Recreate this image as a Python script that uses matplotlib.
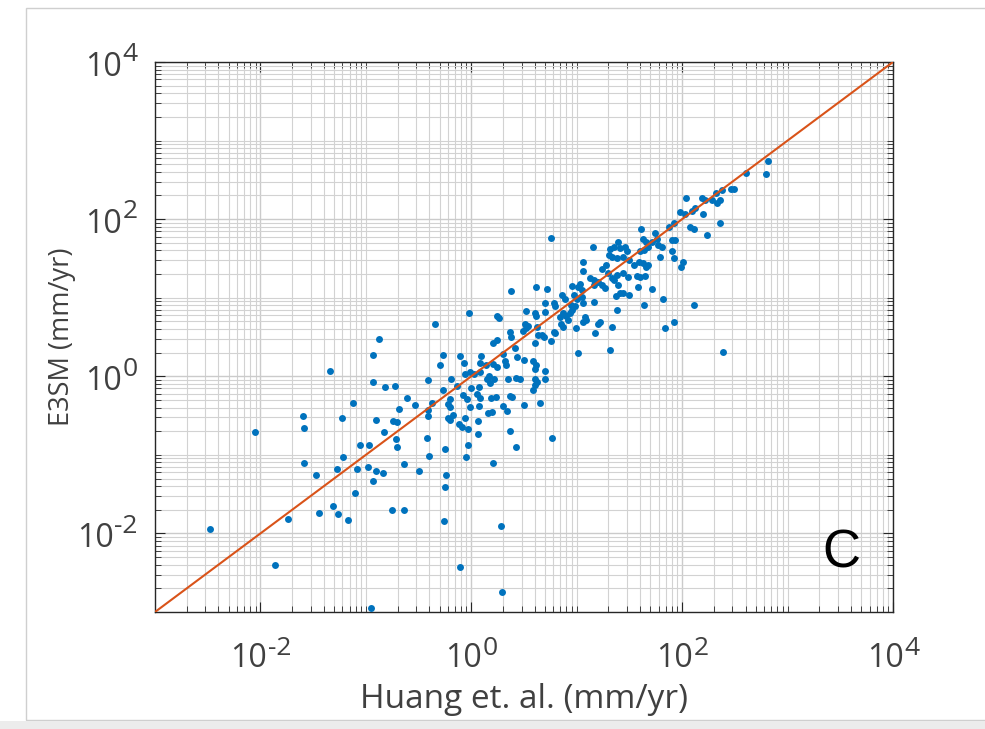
import numpy as np
import matplotlib
matplotlib.use("Agg")
import matplotlib.pyplot as plt
from matplotlib.ticker import FixedLocator, LogLocator, NullFormatter
from matplotlib.patches import Rectangle
from matplotlib.transforms import blended_transform_factory

plt.rcParams["font.family"] = ["Open Sans", "DejaVu Sans"]

# values, as log10(mm/yr)
# low-range cluster
low_huang = [-0.88, -0.93, -1.34, -0.93, -0.82, -0.72, -1.12, -0.69, -1.60, -1.23,
             -0.90, -0.74, -0.70, -1.59, -2.05, -0.83, -0.71, -1.06, -0.97, -0.70,
             -1.22, -1.59, -1.27, -1.08, -0.98, -0.90, -0.84, -1.47, -0.93, -1.10,
             -1.31, -1.44, -1.26, -0.75, -1.74, -1.17, -2.48, -1.86, -0.95, -0.64,
             -0.25, -0.26, 0.28, -0.11, 0.29]
low_e3sm = [0.47, 0.27, 0.07, -0.07, -0.14, -0.12, -0.34, -0.42, -0.50, -0.53,
            -0.56, -0.57, -0.58, -0.66, -0.71, -0.71, -0.80, -0.87, -0.87, -0.90,
            -1.03, -1.10, -1.18, -1.18, -1.16, -1.20, -1.23, -1.25, -1.33, -1.49,
            -1.65, -1.74, -1.75, -1.70, -1.82, -1.83, -1.94, -2.40, -2.95, -1.70,
            -1.41, -1.84, -1.91, -2.43, -2.74]

# middle cluster
mid_huang = [-0.02, 0.24, 0.26, -0.34, 0.52, 0.60, 0.61, 0.51, 0.54, 0.37,
             0.38, 0.49, 0.52, 0.62, 0.63, 0.60, 0.24, 0.21, 0.41, -0.27,
             -0.11, 0.09, 0.30, 0.43, 0.50, -0.30, -0.07, 0.08, 0.14, 0.21,
             0.24, 0.32, 0.33, 0.59, 0.61, 0.60, -0.06, -0.01, 0.03, 0.08,
             -0.19, -0.41, 0.15, 0.17, 0.22, 0.35, 0.42, 0.46, 0.60, 0.62,
             0.70, -0.14, 0.00, 0.07, 0.18, 0.60, 0.59, -0.27, 0.08, 0.05,
             -0.61, -0.20, -0.08, -0.04, 0.19, 0.23, 0.37, 0.39, -0.37, -0.53,
             -0.22, -0.20, -0.01, 0.07, -0.41, 0.16, 0.20, 0.30, 0.34, 0.50,
             0.65, -0.17, -0.22, -0.20, -0.41, -0.06, 0.06, -0.12, -0.09, -0.03,
             0.06, 0.37, -0.42, -0.03, -0.25, 0.42, 0.77, -0.40, -0.05, -0.64,
             0.21, -0.50, -0.24, 0.38, 0.61]
mid_e3sm = [0.81, 0.77, 0.74, 0.66, 0.83, 0.81, 0.77, 0.66, 0.64, 0.57,
            0.50, 0.58, 0.62, 0.63, 0.53, 0.42, 0.46, 0.42, 0.36, 0.27,
            0.26, 0.26, 0.28, 0.25, 0.21, 0.14, 0.17, 0.17, 0.14, 0.16,
            0.12, 0.20, 0.14, 0.19, 0.14, 0.09, 0.03, 0.06, 0.03, 0.06,
            -0.03, -0.05, -0.03, 0.00, -0.04, -0.03, -0.02, -0.03, -0.03, -0.07,
            -0.04, -0.12, -0.15, -0.14, -0.09, -0.11, -0.17, -0.18, -0.28, -0.22,
            -0.27, -0.29, -0.24, -0.29, -0.28, -0.26, -0.25, -0.26, -0.34, -0.36,
            -0.35, -0.39, -0.39, -0.38, -0.43, -0.47, -0.45, -0.38, -0.44, -0.37,
            -0.34, -0.49, -0.53, -0.55, -0.51, -0.53, -0.57, -0.61, -0.65, -0.67,
            -0.73, -0.70, -0.78, -0.87, -0.92, -0.90, -0.79, -1.02, -1.03, -1.12,
            -1.10, -1.20, -1.25, 1.09, 1.14]

# high-range cluster
high_huang = [0.76, 1.15, 1.39, 1.61, 1.74, 2.04, 2.19, 2.22, 2.28, 2.32,
              2.38, 2.46, 2.61, 2.33, 2.36, 1.98, 2.03, 2.09, 2.12, 2.20,
              1.92, 1.88, 2.07, 2.11, 2.36, 2.24, 1.63, 1.66, 1.71, 1.76,
              1.77, 1.81, 1.90, 1.93, 1.32, 1.35, 1.41, 1.46, 1.48, 1.60,
              1.64, 1.68, 1.90, 1.79, 1.92, 1.06, 1.31, 1.33, 1.38, 1.44,
              1.50, 1.54, 1.59, 1.63, 1.66, 1.68, 2.01, 1.99, 1.24, 1.28,
              1.06, 1.30, 1.38, 1.44, 1.49, 1.57, 1.60, 1.65, 1.13, 1.16,
              1.20, 1.33, 1.35, 0.96, 1.01, 1.03, 1.05, 1.16, 1.24, 1.27,
              1.39, 1.58, 1.71, 0.72, 0.70, 0.70, 0.86, 0.89, 0.97, 1.00,
              0.95, 0.98, 1.05, 1.06, 1.37, 1.41, 1.44, 1.50, 1.16, 0.78,
              0.79, 1.38, 1.64, 1.82, 2.11, 0.87, 0.90, 0.94, 0.96, 0.92,
              0.84, 0.85, 0.87, 1.08, 1.09, 1.06, 1.22, 1.20, 1.33, 1.92,
              1.84, 0.99, 1.17, 0.78, 0.79, 0.67, 0.69, 0.76, 1.01, 1.32,
              2.39, 0.70, 2.81, 2.80, 2.49]
high_e3sm = [1.76, 1.65, 1.71, 1.87, 1.82, 2.27, 2.27, 2.24, 2.25, 2.33,
             2.37, 2.38, 2.59, 2.20, 2.24, 2.09, 2.07, 2.11, 2.14, 2.07,
             1.95, 1.90, 1.90, 1.87, 1.95, 1.80, 1.75, 1.71, 1.71, 1.75,
             1.67, 1.65, 1.73, 1.73, 1.62, 1.64, 1.63, 1.65, 1.60, 1.59,
             1.61, 1.64, 1.60, 1.52, 1.51, 1.45, 1.54, 1.52, 1.50, 1.52,
             1.48, 1.42, 1.46, 1.44, 1.39, 1.42, 1.45, 1.39, 1.37, 1.42,
             1.34, 1.31, 1.29, 1.31, 1.26, 1.28, 1.27, 1.28, 1.25, 1.23,
             1.20, 1.25, 1.22, 1.15, 1.14, 1.18, 1.10, 1.16, 1.16, 1.13,
             1.16, 1.14, 1.11, 1.11, 0.93, 0.82, 1.03, 0.99, 1.03, 0.99,
             0.91, 0.89, 1.01, 0.93, 1.02, 1.06, 1.06, 1.04, 0.95, 0.93,
             0.89, 0.85, 0.91, 0.99, 0.91, 0.80, 0.77, 0.80, 0.84, 0.72,
             0.76, 0.67, 0.63, 0.76, 0.72, 0.69, 0.69, 0.67, 0.63, 0.69,
             0.61, 0.62, 0.55, 0.57, 0.55, 0.53, 0.50, 0.45, 0.30, 0.34,
             0.31, 0.07, 2.74, 2.57, 2.38]

axis_lim = [1e-3, 1e4]
tick_exponents = [-2, 0, 2, 4]

huang = 10.0 ** np.array(low_huang + mid_huang + high_huang)
e3sm = 10.0 ** np.array(low_e3sm + mid_e3sm + high_e3sm)

BLUE = "#0072BD"
ORANGE = "#D95319"
DARK = "#262626"
TXT = "#404040"

fig = plt.figure(figsize=(9.85, 7.29), dpi=100)
ax = fig.add_axes([155 / 985, 117 / 729, 738 / 985, 550 / 729])

ax.set_xscale("log")
ax.set_yscale("log")
ax.set_xlim(axis_lim)
ax.set_ylim(axis_lim)

ax.grid(True, which="major", color="#cbcbcb", lw=1.0)
ax.grid(True, which="minor", color="#d2d2d2", lw=0.8)
ax.set_axisbelow(True)

ax.plot(huang, e3sm, "o", color=BLUE, ms=5, mew=0, zorder=3)
ax.plot(axis_lim, axis_lim, "-", color=ORANGE, lw=1.5, zorder=4)

major_ticks = [10.0 ** e for e in tick_exponents]
for axis in (ax.xaxis, ax.yaxis):
    axis.set_major_locator(FixedLocator(major_ticks))
    axis.set_minor_locator(LogLocator(base=10, subs=np.arange(1, 10), numticks=30))
    axis.set_minor_formatter(NullFormatter())

ax.tick_params(which="both", direction="in", top=True, right=True, color=DARK,
               labelbottom=False, labelleft=False)
ax.tick_params(which="major", length=7, width=0.8)
ax.tick_params(which="minor", length=4, width=0.6)
for sp in ax.spines.values():
    sp.set_color(DARK)
    sp.set_linewidth(1.0)

# MATLAB style power labels: "10" plus a big raised exponent with a short hyphen
S, SE = 23, 19
DIGIT, HYPHEN = 0.572, 0.322
tx = blended_transform_factory(ax.transData, ax.transAxes)
ty = blended_transform_factory(ax.transAxes, ax.transData)
for v, e in zip(major_ticks, tick_exponents):
    et = str(e)
    w10 = 2 * DIGIT * S
    we = sum(HYPHEN if ch == "-" else DIGIT for ch in et) * SE
    dx = (w10 - we) / 2
    ax.annotate("10", xy=(v, 0), xycoords=tx, xytext=(dx, -39.6), textcoords="offset points",
                ha="right", va="baseline", fontsize=S, color=TXT, annotation_clip=False)
    ax.annotate(et, xy=(v, 0), xycoords=tx, xytext=(dx + 0.5, -31), textcoords="offset points",
                ha="left", va="baseline", fontsize=SE, color=TXT, annotation_clip=False)
    ax.annotate("10", xy=(0, v), xycoords=ty, xytext=(-13 - we, -10), textcoords="offset points",
                ha="right", va="baseline", fontsize=S, color=TXT, annotation_clip=False)
    ax.annotate(et, xy=(0, v), xycoords=ty, xytext=(-12.5 - we, 0.5), textcoords="offset points",
                ha="left", va="baseline", fontsize=SE, color=TXT, annotation_clip=False)

ax.set_xlabel("Huang et. al. (mm/yr)", fontsize=24, color=TXT)
ax.set_ylabel("E3SM (mm/yr)", fontsize=19.5, color=TXT)
ax.xaxis.set_label_coords(0.5, -0.129)
ax.yaxis.set_label_coords(-0.107, 0.5)

ax.text(0.9295, 0.107, "C", transform=ax.transAxes, ha="center", va="center",
        fontsize=38, family="Liberation Sans", color="black")

# screenshot frame around the figure
fig.patches.append(Rectangle((26 / 985, 9 / 729), 1.0, 712 / 729, transform=fig.transFigure,
                             fill=False, edgecolor="#cfcfcf", lw=1.0))
fig.patches.append(Rectangle((0, 0), 1.0, 8 / 729, transform=fig.transFigure,
                             facecolor="#ececec", edgecolor="none"))

fig.savefig("out.png", dpi=100)
